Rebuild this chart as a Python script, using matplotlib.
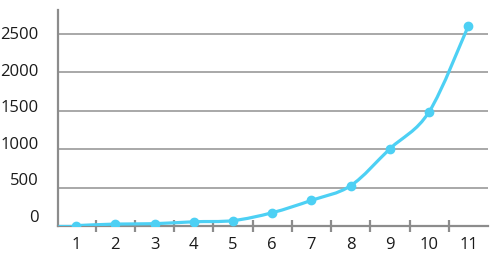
"""Exponential growth line chart."""
import matplotlib
matplotlib.use("Agg")
import matplotlib.pyplot as plt
import matplotlib.transforms as mtransforms
from matplotlib.path import Path
from matplotlib.patches import PathPatch

categories = [1, 2, 3, 4, 5, 6, 7, 8, 9, 10, 11]
values = [5, 25, 30, 55, 70, 173, 334, 525, 1006, 1488, 2607]
y_ticks = [0, 500, 1000, 1500, 2000, 2500]

C_LINE = "#4dd0f4"
C_GRID = "#9a9a9a"
C_AXIS = "#8c8c8c"
C_TEXT = "#1a1a1a"

plt.rcParams["font.family"] = ["Open Sans", "DejaVu Sans"]


def smooth_path(xs, ys):
    # Catmull-Rom through the points, written as cubic Bezier segments
    pts = list(zip(xs, ys))
    verts = [pts[0]]
    codes = [Path.MOVETO]
    for i in range(len(pts) - 1):
        p0 = pts[i - 1] if i > 0 else pts[i]
        p1 = pts[i]
        p2 = pts[i + 1]
        p3 = pts[i + 2] if i + 2 < len(pts) else pts[i + 1]
        c1 = (p1[0] + (p2[0] - p0[0]) / 6, p1[1] + (p2[1] - p0[1]) / 6)
        c2 = (p2[0] - (p3[0] - p1[0]) / 6, p2[1] - (p3[1] - p1[1]) / 6)
        verts += [c1, c2, p2]
        codes += [Path.CURVE4] * 3
    return Path(verts, codes)


fig = plt.figure(figsize=(4.98, 2.70), dpi=100)
ax = fig.add_axes([0.1165, 0.163, 0.8635, 0.80])

ax.set_xlim(0.54, 11.5)
ax.set_ylim(0, 2812)

for v in y_ticks[1:]:
    ax.axhline(v, color=C_GRID, linewidth=1.2, zorder=1)

# the line starts at the left edge at the first value
x0 = ax.get_xlim()[0]
ax.plot([x0, categories[0]], [values[0], values[0]], color=C_LINE,
        linewidth=2.3, solid_capstyle="butt", zorder=3)
ax.add_patch(PathPatch(smooth_path(categories, values), facecolor="none",
                       edgecolor=C_LINE, linewidth=2.3, zorder=3))
ax.plot(categories, values, "o", color=C_LINE, markersize=6, zorder=4)

for side in ("top", "right"):
    ax.spines[side].set_visible(False)
for side in ("left", "bottom"):
    ax.spines[side].set_color(C_AXIS)
    ax.spines[side].set_linewidth(1.6)

ax.set_yticks(y_ticks)
ax.set_yticklabels([str(v) for v in y_ticks])
ax.tick_params(axis="y", length=0, pad=14, labelsize=12, labelcolor=C_TEXT)
# labels sit a little above their lines, more so near the bottom
for v, lab in zip(y_ticks, ax.get_yticklabels()):
    dy = (10 - 9 * v / y_ticks[-1]) / fig.dpi
    lab.set_transform(lab.get_transform()
                      + mtransforms.ScaledTranslation(0, dy, fig.dpi_scale_trans))

ax.set_xticks(categories)
ax.set_xticklabels([str(c) for c in categories])
ax.tick_params(axis="x", which="major", length=0, pad=8, labelsize=12,
               labelcolor=C_TEXT)
ax.set_xticks([c + 0.5 for c in categories[:-1]], minor=True)
ax.tick_params(axis="x", which="minor", direction="inout", length=9,
               width=1.6, color=C_AXIS)

fig.savefig("out.png", dpi=100)
